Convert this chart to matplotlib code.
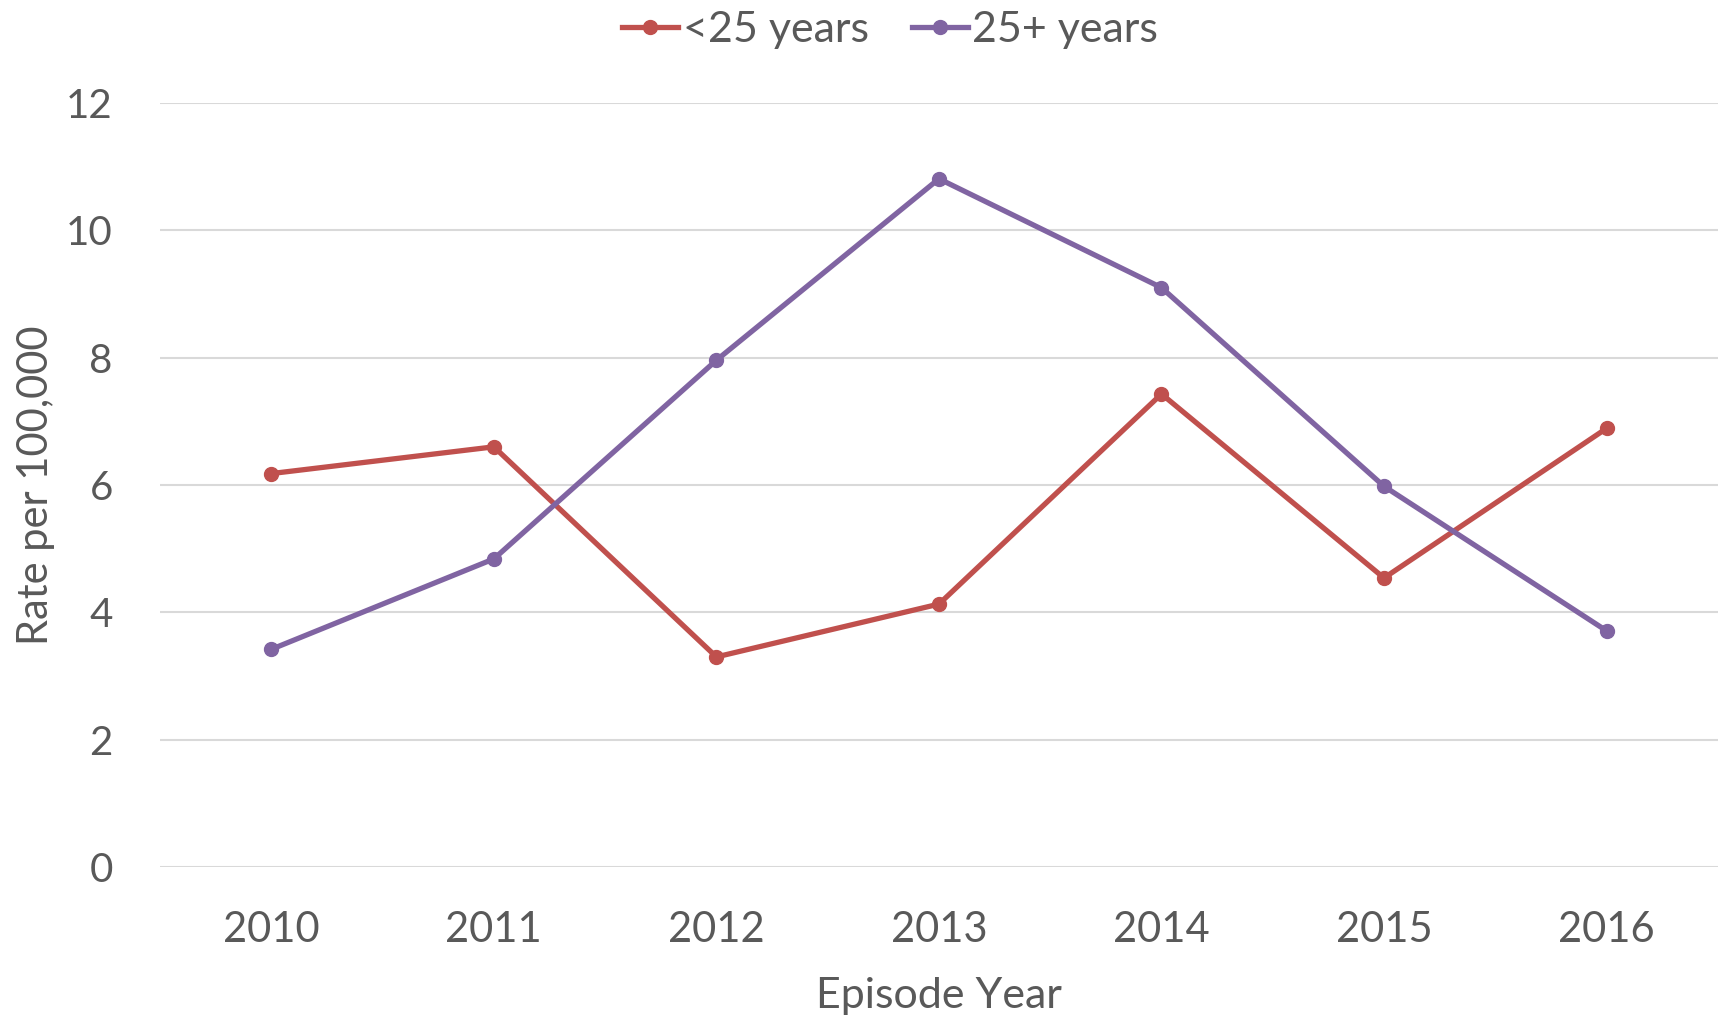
import matplotlib
matplotlib.use("Agg")
import matplotlib.pyplot as plt

years = ["2010", "2011", "2012", "2013", "2014", "2015", "2016"]
under25 = [6.18, 6.60, 3.30, 4.13, 7.43, 4.54, 6.89]
over25 = [3.42, 4.84, 7.96, 10.81, 9.10, 5.98, 3.71]
series_names = ["<25 years", "25+ years"]
yticks = [0, 2, 4, 6, 8, 10, 12]

plt.rcParams['font.family'] = ['Lato', 'DejaVu Sans']
text_color = "#595959"
red = "#C0504D"
purple = "#8064A2"

fig = plt.figure(figsize=(17.23, 10.18), dpi=100)
ax = fig.add_axes([0.0929, 0.1483, 0.9041, 0.7505])

x = list(range(len(years)))
ax.plot(x, under25, color=red, lw=3.8, marker='o', ms=10, label=series_names[0])
ax.plot(x, over25, color=purple, lw=3.8, marker='o', ms=10, label=series_names[1])

ax.set_xlim(-0.5, len(years) - 0.5)
ax.set_ylim(0, 12)
ax.set_yticks(yticks)
ax.set_xticks(x)
ax.set_xticklabels(years)
ax.yaxis.grid(True, color="#D9D9D9", lw=1.5)
ax.set_axisbelow(True)
for s in ax.spines.values():
    s.set_visible(False)
ax.tick_params(axis='both', length=0, labelcolor=text_color)
ax.tick_params(axis='y', pad=34, labelsize=29)
ax.tick_params(axis='x', pad=32, labelsize=30)

ax.set_xlabel("Episode Year", fontsize=31, color=text_color, labelpad=20)
ax.set_ylabel("Rate per 100,000", fontsize=30, color=text_color, labelpad=8)

fig.legend(loc='upper center', bbox_to_anchor=(890 / 1723, 1.027), ncol=2, frameon=False,
           fontsize=31, labelcolor=text_color, handlelength=1.3, handletextpad=0.1,
           columnspacing=1.0)

fig.savefig("out.png", dpi=100)
